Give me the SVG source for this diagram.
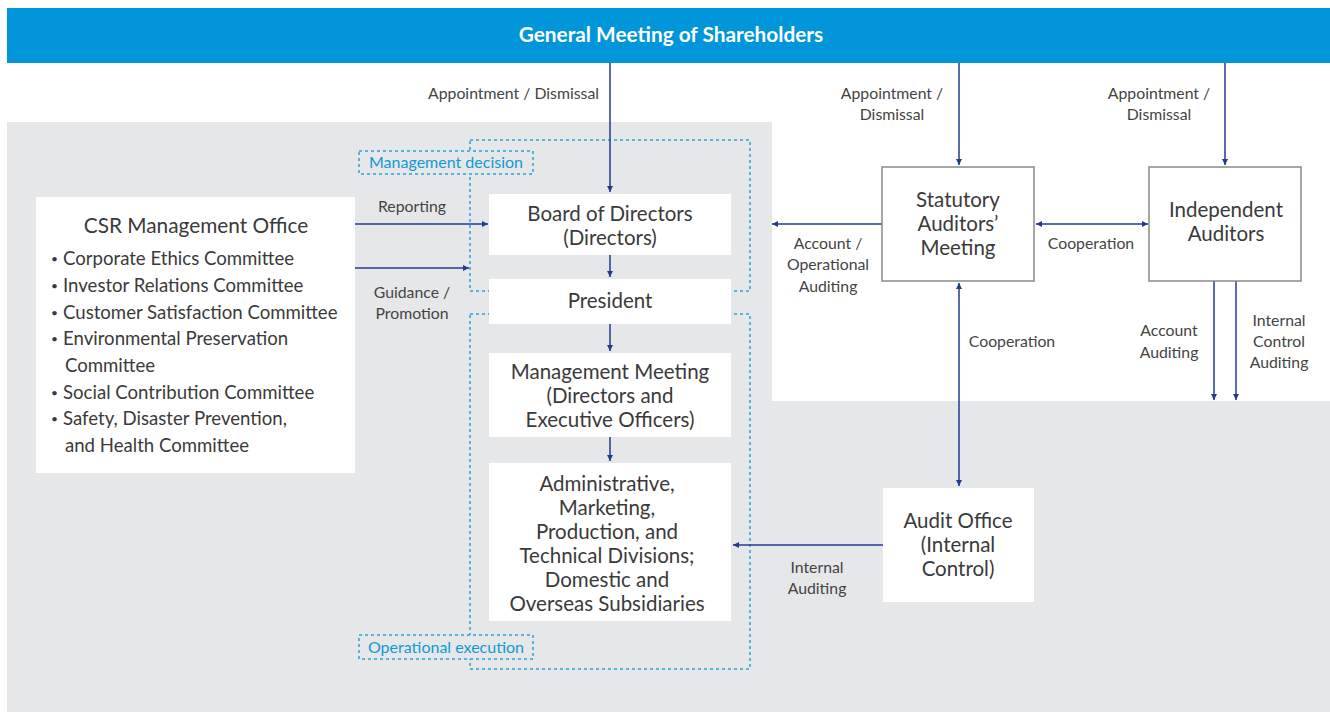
<svg xmlns="http://www.w3.org/2000/svg" width="1330" height="712" viewBox="0 0 1330 712">
  <style>
    .node { fill: #ffffff; }
    .framed { fill: #ffffff; stroke: #8a8a8a; stroke-width: 1.5; }
    .t { font-family: Lato, "Open Sans", sans-serif; fill: #3a3a3a; text-anchor: middle; }
    .big { font-size: 20.5px; }
    .item { font-family: Lato, "Open Sans", sans-serif; fill: #3a3a3a; font-size: 18.6px; }
    .dot { font-family: Lato, "Open Sans", sans-serif; fill: #3a3a3a; font-size: 12px; }
    .lbl { font-family: Lato, "Open Sans", sans-serif; font-size: 15.8px; fill: #444444; text-anchor: middle; }
    .lbl-end { font-family: Lato, "Open Sans", sans-serif; font-size: 15.8px; fill: #444444; text-anchor: end; }
    .zone { fill: none; stroke: #2aa4dc; stroke-width: 1.5; stroke-dasharray: 3 3; }
    .tag { fill: #e6e7e9; stroke: #2aa4dc; stroke-width: 1.5; stroke-dasharray: 3 3; }
    .tagtext { font-family: Lato, "Open Sans", sans-serif; font-size: 16px; fill: #0f9ad8; text-anchor: middle; }
    .link { fill: none; stroke: #233b8e; stroke-width: 1.5; }
  </style>
  <defs>
    <marker id="arrow" viewBox="0 0 10 10" refX="10" refY="5" markerWidth="6" markerHeight="6" markerUnits="userSpaceOnUse" orient="auto-start-reverse">
      <path d="M0,0 L10,5 L0,10 Z" fill="#233b8e"/>
    </marker>
  </defs>

  <!-- backdrop -->
  <rect x="0" y="0" width="1330" height="712" fill="#ffffff"/>
  <polygon points="7,122 772,122 772,401 1330,401 1330,712 7,712" fill="#e6e7e9"/>

  <!-- shareholders banner -->
  <g id="shareholders">
    <rect x="7" y="8" width="1323" height="55" fill="#0096d9"/>
    <text x="671" y="42" font-family="Lato, 'Open Sans', sans-serif" font-size="20.8" font-weight="bold" fill="#ffffff" text-anchor="middle">General Meeting of Shareholders</text>
  </g>

  <!-- dotted zones -->
  <g id="zones">
    <rect class="zone" x="470" y="140" width="280" height="151"/>
    <rect class="zone" x="470" y="314" width="280" height="355"/>
    <rect class="tag" x="359" y="151" width="174" height="23"/>
    <text class="tagtext" x="446" y="168">Management decision</text>
    <rect class="tag" x="359" y="635" width="174" height="24"/>
    <text class="tagtext" x="446" y="653">Operational execution</text>
  </g>

  <!-- connectors -->
  <g id="connectors">
    <path class="link" d="M610,63 V192" marker-end="url(#arrow)"/>
    <path class="link" d="M959,63 V165" marker-end="url(#arrow)"/>
    <path class="link" d="M1225,63 V165" marker-end="url(#arrow)"/>
    <path class="link" d="M355,224 H488" marker-end="url(#arrow)"/>
    <path class="link" d="M355,268 H469" marker-end="url(#arrow)"/>
    <path class="link" d="M610,255 V277" marker-end="url(#arrow)"/>
    <path class="link" d="M610,324 V351" marker-end="url(#arrow)"/>
    <path class="link" d="M610,437 V461" marker-end="url(#arrow)"/>
    <path class="link" d="M882,224 H772" marker-end="url(#arrow)"/>
    <path class="link" d="M1036,224 H1148" marker-start="url(#arrow)" marker-end="url(#arrow)"/>
    <path class="link" d="M959,283 V486" marker-start="url(#arrow)" marker-end="url(#arrow)"/>
    <path class="link" d="M1214,281 V400" marker-end="url(#arrow)"/>
    <path class="link" d="M1236,281 V400" marker-end="url(#arrow)"/>
    <path class="link" d="M883,545 H733" marker-end="url(#arrow)"/>

    <text class="lbl-end" x="599" y="99">Appointment / Dismissal</text>
    <text class="lbl" x="892" y="99">Appointment /</text>
    <text class="lbl" x="892" y="120">Dismissal</text>
    <text class="lbl" x="1159" y="99">Appointment /</text>
    <text class="lbl" x="1159" y="120">Dismissal</text>
    <text class="lbl" x="412" y="212">Reporting</text>
    <text class="lbl" x="412" y="298">Guidance /</text>
    <text class="lbl" x="412" y="319">Promotion</text>
    <text class="lbl" x="828" y="249">Account /</text>
    <text class="lbl" x="828" y="270">Operational</text>
    <text class="lbl" x="828" y="292">Auditing</text>
    <text class="lbl" x="1091" y="249">Cooperation</text>
    <text class="lbl" x="1012" y="347">Cooperation</text>
    <text class="lbl" x="1169" y="336">Account</text>
    <text class="lbl" x="1169" y="358">Auditing</text>
    <text class="lbl" x="1279" y="326">Internal</text>
    <text class="lbl" x="1279" y="347">Control</text>
    <text class="lbl" x="1279" y="368">Auditing</text>
    <text class="lbl" x="817" y="573">Internal</text>
    <text class="lbl" x="817" y="594">Auditing</text>
  </g>

  <!-- CSR office -->
  <g id="csr-office">
    <rect class="node" x="36" y="197" width="319" height="276"/>
    <text class="t" x="196" y="233" font-size="20.8">CSR Management Office</text>
    <g class="dot">
      <text x="51" y="263">•</text>
      <text x="51" y="290">•</text>
      <text x="51" y="317">•</text>
      <text x="51" y="343">•</text>
      <text x="51" y="397">•</text>
      <text x="51" y="423">•</text>
    </g>
    <g class="item">
      <text x="63" y="265">Corporate Ethics Committee</text>
      <text x="63" y="292">Investor Relations Committee</text>
      <text x="63" y="319">Customer Satisfaction Committee</text>
      <text x="63" y="345">Environmental Preservation</text>
      <text x="65" y="372">Committee</text>
      <text x="63" y="399">Social Contribution Committee</text>
      <text x="63" y="425">Safety, Disaster Prevention,</text>
      <text x="65" y="452">and Health Committee</text>
    </g>
  </g>

  <g id="board">
    <rect class="node" x="489" y="194" width="242" height="61"/>
    <text class="t big" x="610" y="221">Board of Directors</text>
    <text class="t big" x="610" y="245">(Directors)</text>
  </g>

  <g id="president">
    <rect class="node" x="489" y="279" width="242" height="45"/>
    <text class="t big" x="610" y="308">President</text>
  </g>

  <g id="management-meeting">
    <rect class="node" x="489" y="353" width="242" height="84"/>
    <text class="t big" x="610" y="379">Management Meeting</text>
    <text class="t big" x="610" y="403">(Directors and</text>
    <text class="t big" x="610" y="427">Executive Officers)</text>
  </g>

  <g id="divisions">
    <rect class="node" x="489" y="463" width="242" height="158"/>
    <text class="t big" x="607" y="491">Administrative,</text>
    <text class="t big" x="607" y="515">Marketing,</text>
    <text class="t big" x="607" y="539">Production, and</text>
    <text class="t big" x="607" y="563">Technical Divisions;</text>
    <text class="t big" x="607" y="587">Domestic and</text>
    <text class="t big" x="607" y="611">Overseas Subsidiaries</text>
  </g>

  <g id="statutory-auditors">
    <rect class="framed" x="882" y="167" width="152" height="114"/>
    <text class="t big" x="958" y="207">Statutory</text>
    <text class="t big" x="958" y="231">Auditors’</text>
    <text class="t big" x="958" y="255">Meeting</text>
  </g>

  <g id="independent-auditors">
    <rect class="framed" x="1149" y="167" width="152" height="114"/>
    <text class="t big" x="1226" y="217">Independent</text>
    <text class="t big" x="1226" y="241">Auditors</text>
  </g>

  <g id="audit-office">
    <rect class="node" x="883" y="488" width="151" height="114"/>
    <text class="t big" x="958" y="528">Audit Office</text>
    <text class="t big" x="958" y="552">(Internal</text>
    <text class="t big" x="958" y="576">Control)</text>
  </g>
</svg>
